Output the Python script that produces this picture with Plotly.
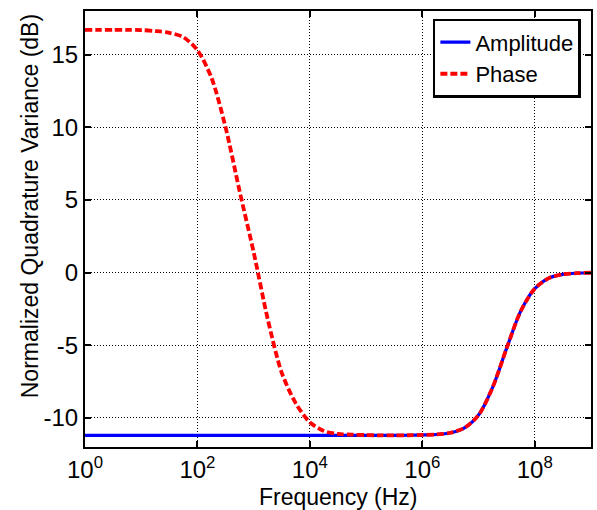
import plotly.graph_objects as go

# log10 of frequency (Hz)
freq_exp = [0, 0.25, 0.5, 0.75, 1.0, 1.25, 1.5, 1.75, 2.0, 2.25, 2.5, 2.75, 3.0,
            3.25, 3.5, 3.75, 4.0, 4.25, 4.5, 4.75, 5.0, 5.25, 5.5, 5.75, 6.0,
            6.25, 6.5, 6.75, 7.0, 7.25, 7.5, 7.75, 8.0, 8.25, 8.5, 8.75, 9.0]

amplitude_db = [-11.2, -11.2, -11.2, -11.2, -11.2, -11.2, -11.2, -11.2, -11.2,
                -11.2, -11.2, -11.2, -11.2, -11.2, -11.2, -11.2, -11.2, -11.2,
                -11.2, -11.2, -11.2, -11.2, -11.2, -11.19, -11.17, -11.14,
                -11.02, -10.68, -9.8, -7.9, -5.2, -2.65, -1.1, -0.38, -0.12,
                -0.04, -0.01]

phase_db = [16.7, 16.7, 16.7, 16.7, 16.69, 16.62, 16.5, 16.2, 15.3, 13.4, 10.0,
            5.6, 1.4, -3.2, -6.9, -9.0, -10.3, -10.9, -11.1, -11.15, -11.18,
            -11.2, -11.2, -11.19, -11.17, -11.14, -11.02, -10.68, -9.8, -7.9,
            -5.2, -2.65, -1.1, -0.38, -0.12, -0.04, -0.01]

x_tick_exps = [0, 2, 4, 6, 8]
y_ticks = [-10, -5, 0, 5, 10, 15]

freq = [10 ** e for e in freq_exp]

FONT = "Liberation Sans, Arial, Helvetica, sans-serif"

fig = go.Figure()
fig.add_trace(go.Scatter(
    x=freq, y=amplitude_db, mode="lines", name="Amplitude",
    line=dict(color="#0000ff", width=3.2, shape="spline", smoothing=0.8),
))
fig.add_trace(go.Scatter(
    x=freq, y=phase_db, mode="lines", name="Phase",
    line=dict(color="#ff0000", width=3.8, dash="7px,3px", shape="spline", smoothing=0.8),
))

axis_common = dict(
    showline=True, linecolor="black", linewidth=2, mirror="ticks",
    ticks="inside", ticklen=6, tickwidth=2, tickcolor="black",
    showgrid=True, gridcolor="black", gridwidth=1, griddash="1px,2px",
    zeroline=False,
    tickfont=dict(family=FONT, size=24, color="black"),
)

fig.update_xaxes(
    type="log", range=[0, 9],
    tickvals=[10 ** e for e in x_tick_exps],
    ticktext=[f"10<sup>{e}</sup>" for e in x_tick_exps],
    ticklabelstandoff=0,
    **axis_common,
)
fig.update_yaxes(
    range=[-12, 18],
    tickvals=y_ticks,
    ticktext=[str(v) for v in y_ticks],
    **axis_common,
)

fig.add_annotation(
    text="Frequency (Hz)",
    xref="paper", yref="paper", x=0.5, y=-0.148,
    xanchor="center", yanchor="bottom", showarrow=False,
    font=dict(family=FONT, size=23, color="black"),
)
fig.add_annotation(
    text="Normalized Quadrature Variance (dB)",
    xref="paper", yref="paper", x=-0.108, y=0.553,
    xanchor="center", yanchor="middle", textangle=-90, showarrow=False,
    font=dict(family=FONT, size=23, color="black"),
)

fig.update_layout(
    width=597, height=510,
    margin=dict(l=85, r=4, t=11, b=63),
    paper_bgcolor="white", plot_bgcolor="white",
    showlegend=True,
    legend=dict(
        x=0.98, y=0.982, xanchor="right", yanchor="top",
        bgcolor="white", bordercolor="black", borderwidth=2.5,
        font=dict(family=FONT, size=22, color="black"),
        tracegroupgap=0, itemwidth=30,
    ),
)

fig.write_html("out.html")
